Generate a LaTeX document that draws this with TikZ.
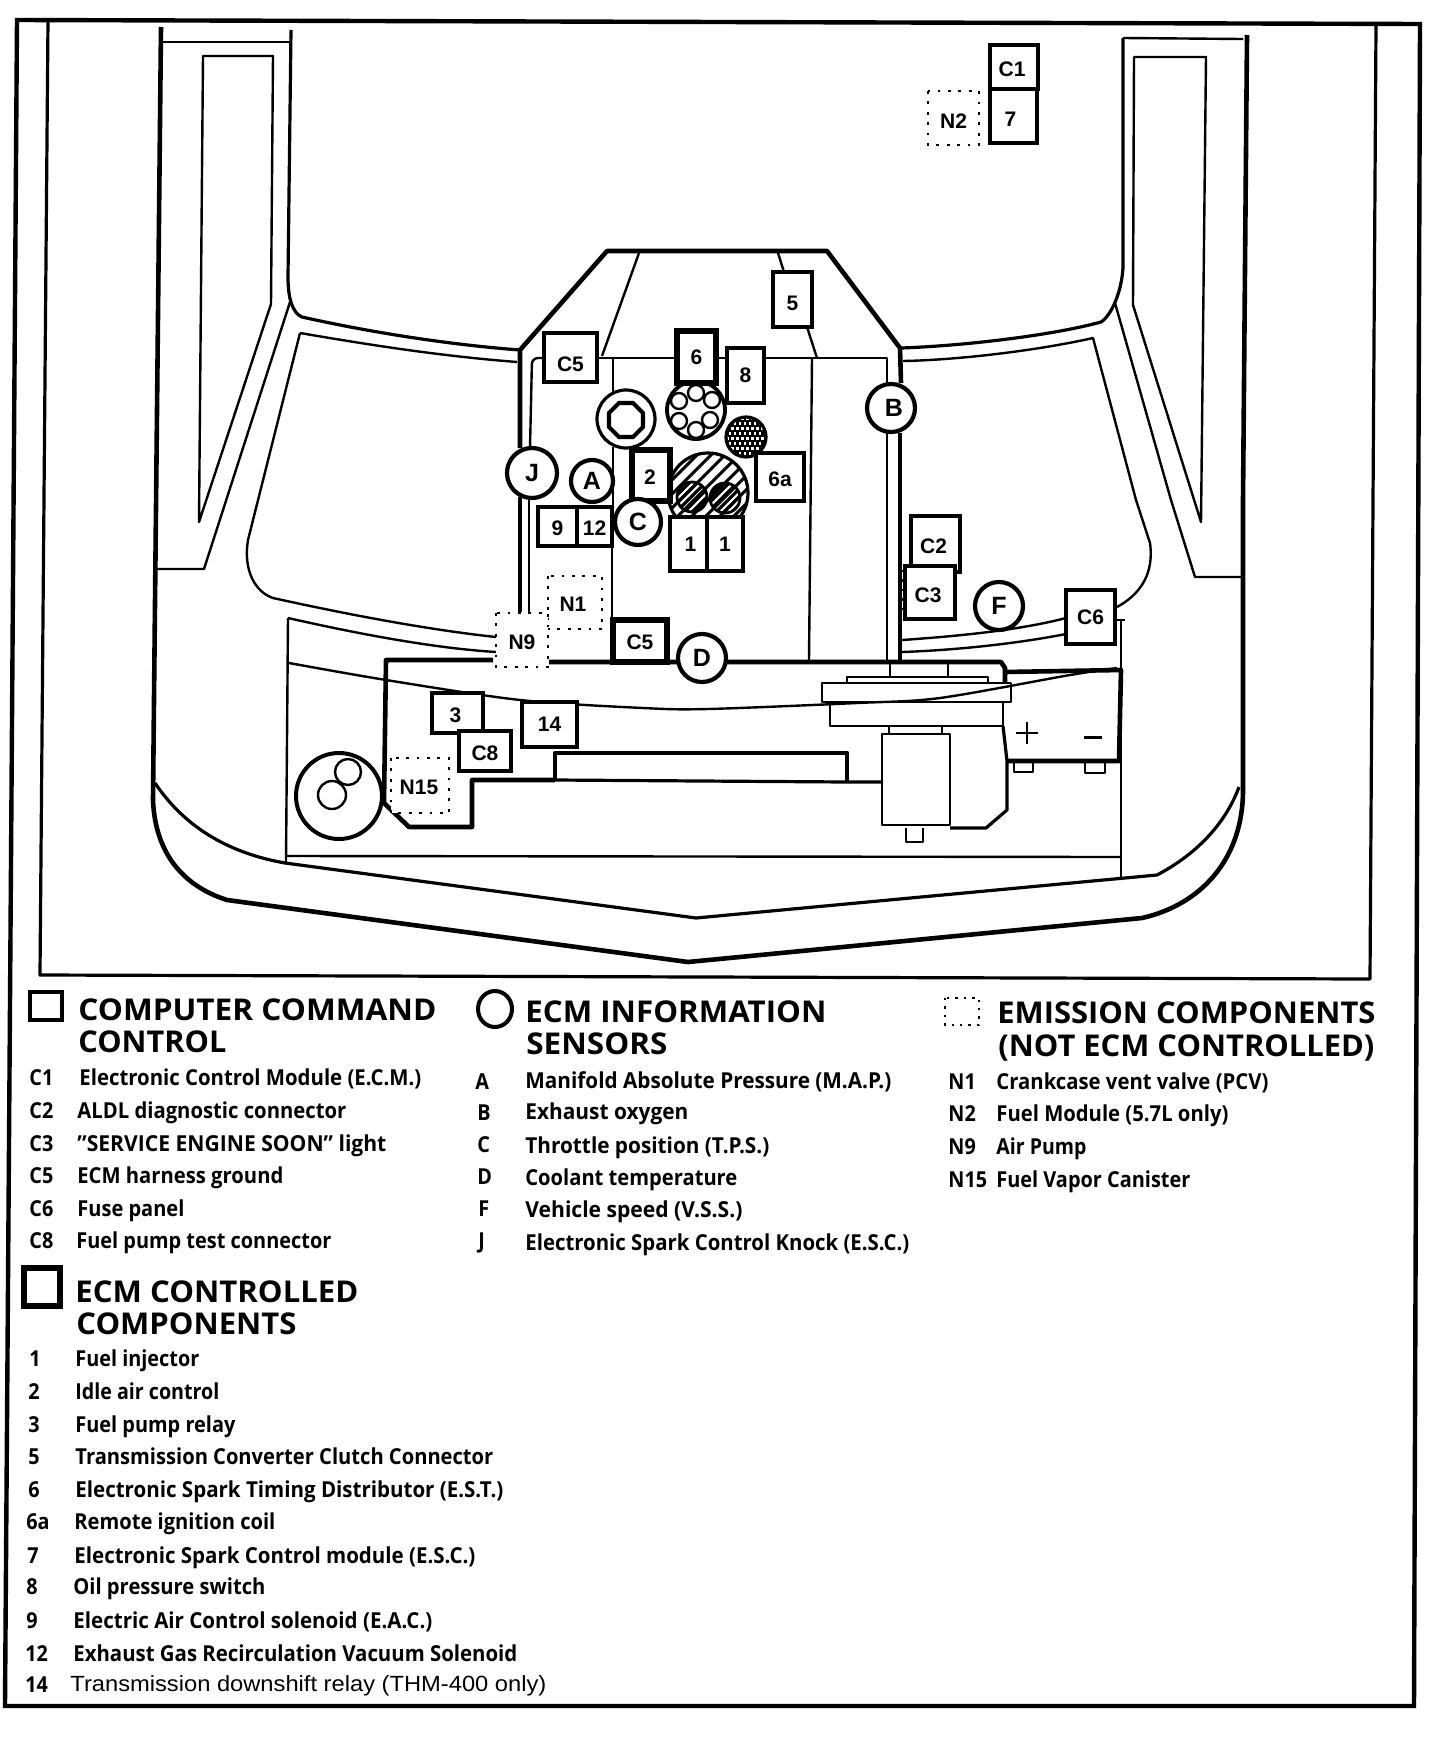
\documentclass[tikz,border=0pt]{standalone}
\usepackage{fontspec}
\setmainfont{Open Sans}
\newfontfamily\lib{Liberation Sans}
\newlength\unitpx \setlength\unitpx{0.5pt}
\newcounter{legn}
\tikzset{
  thin line/.style={line width=1.2pt,line join=round},
  med line/.style={line width=1.6pt,line join=round},
  hv line/.style={line width=2.3pt,line join=round},
  dotline/.style={line width=1.4pt,dash pattern=on 1.4pt off 3.8pt},
  lab/.style={font=\lib\bfseries\fontsize{10.5}{12}\selectfont,inner sep=0pt},
  bxm/.style={draw,fill=white,rectangle,line width=1.6pt,lab},
  bxh/.style={draw,fill=white,rectangle,line width=2.6pt,lab},
  bxd/.style={fill=white,rectangle,lab},
  crc/.style={draw,fill=white,circle,line width=2.1pt,inner sep=0pt,font=\lib\bfseries\fontsize{12.5}{14}\selectfont},
  legtext/.style={inner sep=0pt,font=\bfseries\fontsize{11}{13}\selectfont},
  leghead/.style={inner sep=0pt,font=\bfseries\fontsize{15}{18}\selectfont},
  legreg/.style={inner sep=0pt,font=\lib\fontsize{11}{13}\selectfont}
}
\newcommand{\lowr}[2]{\raisebox{-#1}[\height][\depth]{#2}}
\newcommand{\bx}[7][bxm]{\node[#1,minimum width={(#5-#3)*0.5pt},minimum height={(#6-#4)*0.5pt}] (#2) at ({(#3+#5)/2},{(#4+#6)/2}) {#7};}
\newcommand{\dbx}[6]{\node[bxd,minimum width={(#4-#2)*0.5pt},minimum height={(#5-#3)*0.5pt}] (#1) at ({(#2+#4)/2},{(#3+#5)/2}) {#6};
  \draw[dotline] (#2,#3) rectangle (#4,#5);}
\newcommand{\crcn}[5]{\node[crc,minimum size={2*#4*0.5pt}] (#1) at (#2,#3) {#5};}
\newcommand{\legt}[5][legtext]{\stepcounter{legn}\node[#1,anchor=base west] (leg\thelegn) at (#2,#3) {\resizebox{#4\unitpx}{\height}{#5}};}
\newcommand{\legk}[3]{\stepcounter{legn}\node[legtext,anchor=base west] (leg\thelegn) at (#1,#2) {\scalebox{.9}[1]{#3}};}
\begin{document}
\begin{tikzpicture}[x=0.5pt,y=-0.5pt]
\useasboundingbox (0,0) rectangle (1440,1740);
\fill[white] (0,0) rectangle (1440,1740);
% frames
\draw[line width=2.2pt] (17,20)--(1420,24)--(1414,1706)--(5,1706)--cycle;
\draw[med line] (48,20)--(40,975)--(1370,979)--(1376,24);
% left fender
\draw[hv line] (161,27)--(154,700)--(153,800) .. controls (155,850) and (180,885) .. (227,900)--(688,962)--(1142,918) .. controls (1200,905) and (1243,860) .. (1243,790)--(1243,500)--(1247,35);
\draw[med line] (155,783) .. controls (190,835) and (240,855) .. (285,863)--(696,918)--(1157,875) .. controls (1195,855) and (1225,825) .. (1239,787);
% left wing
\draw[thin line] (163,42)--(291,42);
\draw[med line] (291,30)--(288,277) .. controls (288,300) and (293,313) .. (302,317) .. controls (360,330) and (440,344) .. (520,350);
\draw[thin line] (203,56)--(273,56)--(271,304)--(199,522)--cycle;
\draw[thin line] (291,299)--(204,569)--(157,569);
\draw[thin line] (300,333) .. controls (370,345) and (440,356) .. (517,362);
\draw[thin line] (300,333)--(248,540) .. controls (243,570) and (255,592) .. (273,598) .. controls (350,615) and (430,630) .. (496,637);
\draw[thin line] (288,618) .. controls (350,632) and (430,648) .. (496,652);
\draw[thin line] (288,618)--(286,862);
% right wing
\draw[thin line] (1123,38)--(1243,39);
\draw[med line] (1123,38)--(1123,267) .. controls (1122,290) and (1112,315) .. (1101,322) .. controls (1050,336) and (960,346) .. (901,348);
\draw[thin line] (1134,57)--(1206,57)--(1201,522)--(1133,305)--cycle;
\draw[thin line] (1115,303)--(1171,500)--(1195,577)--(1243,577);
\draw[thin line] (903,361) .. controls (960,360) and (1040,350) .. (1093,338)--(1136,500)--(1150,543) .. controls (1153,565) and (1148,590) .. (1117,607);
% curve under the hood
\draw[thin line] plot[smooth,tension=.5] coordinates {(289,663)(386,680)(520,700)(643,708)(708,709)(857,703)(940,698)(1070,675)(1117,668)};
% hood and engine
\draw[hv line] (520,448)--(520,350)--(607,251)--(827,251)--(900,348)--(901,383);
\draw[hv line] (520,497)--(520,612);
\draw[thin line,rounded corners=3pt] (530,448)--(532,358)--(560,358);
\draw[thin line] (529,497)--(529,613);
\draw[thin line] (597,358)--(887,358)--(887,385);
\draw[thin line] (887,433)--(887,660);
\draw[med line] (900,433)--(900,660);
\draw[thin line] (639,253)--(602,356);
\draw[thin line] (778,253)--(784,272);
\draw[thin line] (807,327)--(817,358);
\draw[thin line] (812,358)--(809,660);
\draw[thin line] (613,358)--(613,393);
\draw[thin line] (613,447)--(613,507);
\draw[thin line] (612,547)--(612,620);
% heavy engine tray
\draw[hv line] (493,660)--(386,660)--(384,803)--(409,827)--(472,827)--(472,780)--(555,780);
\draw[hv line] (555,780)--(555,753)--(847,753)--(847,782);
\draw[med line] (555,780)--(847,782)--(883,782);
\draw[hv line] (549,662)--(1001,662)--(1005,668)--(1005,683);
\draw[thin line] (890,662)--(890,677) (948,662)--(948,677);
\draw[thin line] (847,683)--(847,677)--(988,677)--(988,683);
\draw[thin line] (822,683) rectangle (1011,702);
\draw[thin line] (830,702)--(830,726)--(1003,726)--(1003,702);
\draw[thin line] (889,726)--(889,734) (942,726)--(942,734);
\draw[thin line] (882,734) rectangle (950,825);
\draw[med line] (1003,726)--(1007,761)--(1007,810)--(986,828)--(950,828);
\draw[thin line] (906,828)--(906,842)--(923,842)--(923,828);
% battery
\draw[hv line] (1005,672)--(1121,670)--(1119,761)--(1007,761);
\draw[thin line] (1014,763)--(1014,772)--(1033,772)--(1033,763);
\draw[thin line] (1085,763)--(1085,773)--(1105,773)--(1105,763);
\draw[thin line] (1027,722)--(1027,744) (1016,733)--(1038,733);
\draw[line width=1.5pt] (1084,737)--(1102,737);
\draw[thin line] (1121,620)--(1121,877);
\draw[thin line] (1112,620)--(1125,620);
\draw[thin line] (287,856)--(1121,857);
\draw[thin line] (902,640) .. controls (960,636) and (1020,630) .. (1066,618);
\draw[thin line] (902,652) .. controls (960,650) and (1020,643) .. (1066,634);
% big circle lower left
\draw[line width=2pt] (339,796) circle[radius=43];
\draw[thin line] (348,772) circle[radius=13];
\draw[thin line] (332,795) circle[radius=14];
% throttle body circle
\draw[med line,fill=white] (626,419) circle[radius=29];
\draw[line width=2.1pt,fill=white] (609,413)--(619,403)--(633,403)--(643,413)--(643,427)--(633,437)--(619,437)--(609,427)--cycle;
% distributor
\draw[line width=1.9pt,fill=white] (696,410) circle[radius=29];
\foreach \p in {(696,393),(679,401),(712,400),(679,421),(710,420),(696,430)}
  \draw[thin line,fill=white] \p circle[radius=8];
% hatched coil circle
\begin{scope}
\clip (746,437) circle[radius=20];
\fill[black] (726,417) rectangle (766,457);
\foreach \i in {0,...,8}{\foreach \j in {0,...,8}{
  \fill[white] ({726+\i*5+mod(\j,2)*2.5},{417+\j*5}) rectangle +(2.5,2.5);}}
\end{scope}
\draw[med line] (746,437) circle[radius=20];
% hatched half circle
\begin{scope}
\clip (660,515) rectangle (760,440);
\draw[med line,fill=white] (708,493) circle[radius=40];
\clip (708,493) circle[radius=40];
\foreach \k in {-6,...,8}
  \draw[line width=1.5pt] ({650+\k*14},530)--({650+\k*14+90},440);
\draw[line width=1.4pt] (692,497) circle[radius=15];
\draw[line width=1.4pt] (725,498) circle[radius=15];
\begin{scope}
\clip (692,497) circle[radius=15] (725,498) circle[radius=15];
\foreach \k in {-6,...,14}
  \draw[line width=1.6pt] ({650+\k*8},530)--({650+\k*8+90},440);
\end{scope}
\end{scope}
% boxes
\bx{c5a}{544}{333}{597}{382}{\lowr{3.5pt}{C5}}
\bx[bxh]{c5b}{613}{620}{667}{662}{\lowr{0.5pt}{C5}}
\bx{b5}{773}{272}{812}{327}{\lowr{2pt}{5}}
\bx[bxh]{b6}{677}{331}{716}{383}{6}
\bx{b8}{727}{348}{764}{403}{8}
\bx[bxh]{b2}{632}{450}{670}{501}{\lowr{1pt}{2\hspace{1pt}}}
\bx{b6a}{756}{453}{804}{501}{\lowr{1pt}{6a}}
\bx{b1a}{670}{517}{707}{571}{\hspace{2pt}1}
\bx{b1b}{707}{517}{743}{571}{1}
\bx{b9}{538}{507}{577}{546}{\lowr{1pt}{9}}
\bx{b12}{577}{507}{612}{546}{\lowr{1pt}{12}}
\bx{c1}{990}{45}{1038}{89}{\lowr{1pt}{C1\hspace{2pt}}}
\bx{b7}{990}{89}{1037}{143}{\lowr{1.5pt}{7\hspace{3pt}}}
\bx{b3}{432}{693}{483}{733}{\lowr{1pt}{3\hspace{2pt}}}
\bx{c8}{459}{731}{511}{771}{\lowr{1pt}{C8}}
\bx{b14}{522}{702}{577}{747}{14}
\bx{c2}{911}{516}{960}{572}{\lowr{1pt}{C2\hspace{2pt}}}
\bx{c3}{905}{566}{955}{619}{\lowr{1.5pt}{C3\hspace{2pt}}}
\bx{c6}{1066}{590}{1115}{644}{C6\hspace{2pt}}
\draw[line width=1.2pt,dash pattern=on 1.2pt off 3.5pt] (903,570)--(903,613);
% sensor circles
\crcn{j}{532}{473}{25}{J\hspace{4pt}}
\crcn{a}{592}{481}{21}{A}
\crcn{c}{638}{522}{23}{C\hspace{2pt}}
\crcn{d}{702}{658}{24}{D}
\crcn{b}{891}{408}{24}{\hspace{3pt}B}
\crcn{f}{999}{606}{24}{F}
% dotted boxes
\dbx{n1}{548}{576}{602}{629}{\lowr{1pt}{N1\hspace{2pt}}}
\dbx{n9}{496}{613}{548}{667}{\lowr{1pt}{N9}}
\dbx{n2}{928}{91}{979}{145}{\lowr{1.5pt}{N2}}
\dbx{n15}{391}{758}{449}{813}{\lowr{1pt}{N15\hspace{1pt}}}
% legend column 1
\draw[line width=1.7pt] (30,992) rectangle (62,1020);
\legt[leghead]{78}{1020}{358}{COMPUTER COMMAND}
\legt[leghead]{78}{1052}{148}{CONTROL}
\legk{29}{1085}{C1}\legt{79}{1085}{342}{Electronic Control Module (E.C.M.)}
\legk{29}{1118}{C2}\legt{77}{1118}{269}{ALDL diagnostic connector}
\legk{29}{1151}{C3}\legt{77}{1151}{309}{"SERVICE ENGINE SOON" light}
\legk{29}{1183}{C5}\legt{77}{1183}{206}{ECM harness ground}
\legk{29}{1216}{C6}\legt{77}{1216}{107}{Fuse panel}
\legk{29}{1248}{C8}\legt{76}{1248}{255}{Fuel pump test connector}
\draw[line width=2.6pt] (24,1268) rectangle (60,1306);
\legt[leghead]{75}{1302}{283}{ECM CONTROLLED}
\legt[leghead]{76}{1334}{220}{COMPONENTS}
\legk{29}{1366}{1}\legt{75}{1366}{124}{Fuel injector}
\legk{28}{1399}{2}\legt{75}{1399}{144}{Idle air control}
\legk{28}{1432}{3}\legt{75}{1432}{160}{Fuel pump relay}
\legk{28}{1464}{5}\legt{75}{1464}{418}{Transmission Converter Clutch Connector}
\legk{28}{1497}{6}\legt{75}{1497}{428}{Electronic Spark Timing Distributor (E.S.T.)}
\legk{26}{1529}{6a}\legt{74}{1529}{201}{Remote ignition coil}
\legk{27}{1563}{7}\legt{74}{1563}{401}{Electronic Spark Control module (E.S.C.)}
\legk{26}{1594}{8}\legt{73}{1594}{192}{Oil pressure switch}
\legk{26}{1628}{9}\legt{73}{1628}{359}{Electric Air Control solenoid (E.A.C.)}
\legk{25}{1661}{12}\legt{73}{1661}{444}{Exhaust Gas Recirculation Vacuum Solenoid}
\legk{25}{1692}{14}\legt[legreg]{70}{1691}{476}{Transmission downshift relay (THM-400 only)}
% legend column 2
\draw[line width=2pt] (495,1009) circle[x radius=17,y radius=18];
\legt[leghead]{525}{1022}{301}{ECM INFORMATION}
\legt[leghead]{526}{1054}{141}{SENSORS}
\legk{475}{1089}{A}\legt{525}{1088}{366}{Manifold Absolute Pressure (M.A.P.)}
\legk{477}{1120}{B}\legt{525}{1119}{163}{Exhaust oxygen}
\legk{477}{1152}{C}\legt{525}{1153}{244}{Throttle position (T.P.S.)}
\legk{477}{1184}{D}\legt{525}{1185}{212}{Coolant temperature}
\legk{478}{1216}{F}\legt{525}{1217}{217}{Vehicle speed (V.S.S.)}
\legk{478}{1248}{J}\legt{525}{1250}{384}{Electronic Spark Control Knock (E.S.C.)}
% legend column 3
\draw[line width=1.2pt,dash pattern=on 1.2pt off 3pt] (945,998) rectangle (979,1025);
\legt[leghead]{997}{1023}{378}{EMISSION COMPONENTS}
\legt[leghead]{998}{1056}{376}{(NOT ECM CONTROLLED)}
\legk{948}{1089}{N1}\legt{996}{1089}{272}{Crankcase vent valve (PCV)}
\legk{948}{1121}{N2}\legt{996}{1121}{232}{Fuel Module (5.7L only)}
\legk{948}{1154}{N9}\legt{996}{1154}{90}{Air Pump}
\legk{948}{1187}{N15}\legt{996}{1187}{194}{Fuel Vapor Canister}
\end{tikzpicture}
\end{document}
